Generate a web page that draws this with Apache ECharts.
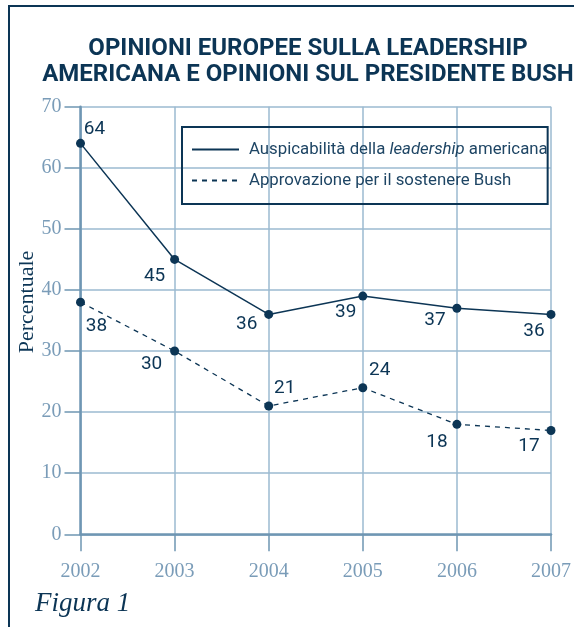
<!DOCTYPE html>
<html><head><meta charset="utf-8">
<script src="https://cdn.jsdelivr.net/npm/echarts@6/dist/echarts.min.js"></script>
<style>html,body{margin:0;padding:0;background:#fff}#c{width:574px;height:627px}</style>
</head><body><div id="c"></div>
<script>
const years = ['2002','2003','2004','2005','2006','2007'];
const leadership = [64, 45, 36, 39, 37, 36];
const bush = [38, 30, 21, 24, 18, 17];
const yTicks = [0, 10, 20, 30, 40, 50, 60, 70];
const seriesNames = ['Auspicabilità della leadership americana', 'Approvazione per il sostenere Bush'];
const titleText = 'OPINIONI EUROPEE SULLA LEADERSHIP\nAMERICANA E OPINIONI SUL PRESIDENTE BUSH';
const yName = 'Percentuale';
const figText = 'Figura 1';

// label offsets (style only)
const offA = [[14,-14],[-20,17],[-22,10],[-17,16],[-22,12],[-17,17]];
const offB = [[16,24],[-23,13],[16,-18],[17,-17],[-20,18],[-22,16]];

const navy = '#0c3555';
const gridCol = '#9bbad0';
const axisCol = '#6f96b3';
const labelCol = '#7a9cb8';

function mk(vals, offs) {
  return vals.map((v, i) => ({ value: v, label: { offset: offs[i] } }));
}

const chart = echarts.init(document.getElementById('c'), null, {renderer: 'canvas'});
chart.setOption({
  animation: false,
  backgroundColor: '#fff',
  title: {
    text: titleText, left: 303, textAlign: 'center', top: 31,
    textStyle: { fontFamily: 'Roboto, sans-serif', fontWeight: 'bold', fontSize: 24, color: navy, lineHeight: 26 }
  },
  grid: { left: 80.5, right: 14.5, top: 106.7, bottom: 92.7 },
  legend: {
    left: 182, top: 127, orient: 'vertical',
    borderColor: navy, borderWidth: 2, padding: [14, 0, 15, 9],
    itemWidth: 47, itemHeight: 14, itemGap: 14,
    itemStyle: { opacity: 0 },
    data: [ seriesNames[0], seriesNames[1] ],
    textStyle: { fontFamily: 'Roboto, sans-serif', fontSize: 16.8, color: '#1e4564', padding: [0, 0, 0, 5],
      rich: { it: { fontStyle: 'italic', fontFamily: 'Roboto, sans-serif', fontSize: 16.8, color: '#1e4564' },
              n: { fontFamily: 'Roboto, sans-serif', fontSize: 16.8, color: '#1e4564' } } },
    formatter: function (name) {
      if (name === seriesNames[0]) return '{n|Auspicabilità della }{it|leadership}{n| americana}';
      return '{n|' + name + '}';
    }
  },
  xAxis: {
    type: 'category', data: years, boundaryGap: false,
    axisLine: { lineStyle: { color: axisCol, width: 2.5 } },
    axisTick: { show: true, length: 17, lineStyle: { color: axisCol, width: 1.5 } },
    axisLabel: { margin: 27, fontFamily: 'Liberation Serif, serif', fontSize: 20, color: labelCol },
    splitLine: { show: true, lineStyle: { color: gridCol, width: 1.5 } }
  },
  yAxis: {
    type: 'value', min: 0, max: 70, interval: 10,
    axisLine: { show: true, lineStyle: { color: axisCol, width: 2.5 } },
    axisTick: { show: true, length: 16, lineStyle: { color: axisCol, width: 1.5 } },
    axisLabel: { margin: 19, fontFamily: 'Liberation Serif, serif', fontSize: 20, color: labelCol },
    splitLine: { show: true, lineStyle: { color: gridCol, width: 1.5 } }
  },
  series: [
    {
      name: seriesNames[0], type: 'line', data: mk(leadership, offA),
      symbol: 'circle', symbolSize: 9, color: navy,
      lineStyle: { color: navy, width: 1.5, type: 'solid' },
      itemStyle: { color: navy },
      label: { show: true, position: 'inside', fontFamily: 'Roboto, sans-serif', fontSize: 19, color: navy, align: 'center', verticalAlign: 'middle' }
    },
    {
      name: seriesNames[1], type: 'line', data: mk(bush, offB),
      symbol: 'circle', symbolSize: 9, color: navy,
      lineStyle: { color: navy, width: 1.3, type: [5, 5] },
      itemStyle: { color: navy },
      label: { show: true, position: 'inside', fontFamily: 'Roboto, sans-serif', fontSize: 19, color: navy, align: 'center', verticalAlign: 'middle' }
    }
  ],
  graphic: [
    { type: 'rect', shape: { x: 9, y: 6, width: 700, height: 700 }, style: { fill: 'none', stroke: navy, lineWidth: 2 }, silent: true, z: 100 },
    { type: 'text', x: 27, y: 302, rotation: Math.PI / 2, style: { text: yName, font: '22px "Liberation Serif", serif', fill: navy, textAlign: 'center', textVerticalAlign: 'middle' } },
    { type: 'text', left: 35, top: 590, style: { text: figText, font: 'italic 27px "Liberation Serif", serif', fill: navy } }
  ]
});
</script></body></html>
